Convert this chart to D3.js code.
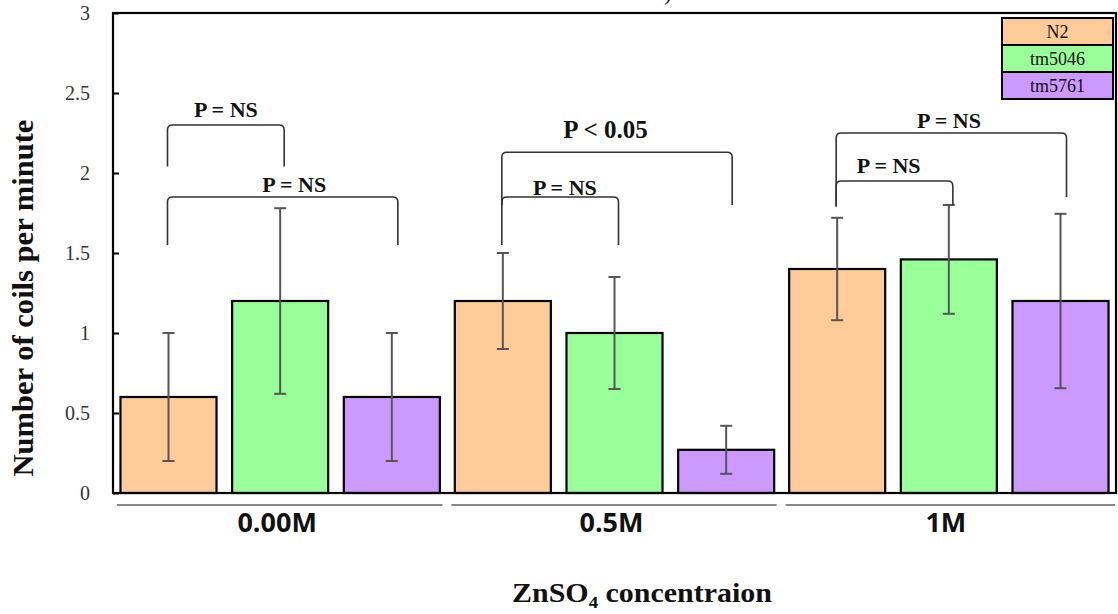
<!DOCTYPE html>
<html>
<head>
<meta charset="utf-8">
<script src="https://cdn.jsdelivr.net/npm/d3@7"></script>
<style>
  body { margin: 0; background: #fff; }
  svg { display: block; }
</style>
</head>
<body>
<div id="visualization"></div>
<script>
// data
var groups = ["0.00M", "0.5M", "1M"];
var series = ["N2", "tm5046", "tm5761"];
var n2Values = [0.6, 1.2, 1.4];
var n2Errors = [0.4, 0.3, 0.32];
var tm5046Values = [1.2, 1.0, 1.46];
var tm5046Errors = [0.58, 0.35, 0.34];
var tm5761Values = [0.6, 0.27, 1.2];
var tm5761Errors = [0.4, 0.15, 0.545];
var yTicks = [0, 0.5, 1, 1.5, 2, 2.5, 3];

// significance brackets: group, from/to series, heights in data units
var brackets = [
    {group: 0, from: 0, to: 1, top: 2.30, left: 2.04, right: 2.04, label: "P = NS", labelY: 2.35, at: 0.5},
    {group: 0, from: 0, to: 2, top: 1.85, left: 1.55, right: 1.55, label: "P = NS", labelY: 1.88, at: 0.55},
    {group: 1, from: 0, to: 2, top: 2.13, left: 1.80, right: 1.80, label: "P < 0.05", labelY: 2.22, at: 0.45, big: true},
    {group: 1, from: 0, to: 1, top: 1.85, left: 1.55, right: 1.55, label: "P = NS", labelY: 1.86, at: 0.54},
    {group: 2, from: 0, to: 2, top: 2.25, left: 1.79, right: 1.85, label: "P = NS", labelY: 2.28, at: 0.49},
    {group: 2, from: 0, to: 1, top: 1.95, left: 1.79, right: 1.80, label: "P = NS", labelY: 2.0, at: 0.45}
];

var colors = ["#ffcc99", "#99ff99", "#cc99ff"];
var serif = "'Liberation Serif', 'Times New Roman', serif";

var width = 1118, height = 614;
var plot = {left: 113, right: 1116, top: 13, bottom: 493};

var svg = d3.select("#visualization")
    .append("svg")
    .attr("width", width)
    .attr("height", height);

var values = [n2Values, tm5046Values, tm5761Values];
var errors = [n2Errors, tm5046Errors, tm5761Errors];

var rows = [];
groups.forEach(function (g, gi) {
    series.forEach(function (s, si) {
        rows.push({group: g, gi: gi, series: s, si: si, value: values[si][gi], err: errors[si][gi]});
    });
});

//Define scales
var x0 = d3.scaleBand().domain(groups).range([plot.left, plot.right]).padding(0);
var x1 = d3.scaleBand().domain(series).range([0, x0.bandwidth()])
    .paddingInner(0.14).paddingOuter(0.067);
var y = d3.scaleLinear().domain([0, 3]).range([plot.bottom, plot.top]);

function barCenter(gi, si) {
    return x0(groups[gi]) + x1(series[si]) + x1.bandwidth() / 2;
}

// stray fragment of the cropped title
svg.append("text")
    .attr("x", 664)
    .attr("y", 0)
    .attr("font-family", serif)
    .attr("font-size", 24)
    .attr("fill", "#222")
    .text(")");

// bars
svg.append("g")
    .attr("class", "bars")
    .selectAll("rect")
    .data(rows)
    .enter().append("rect")
    .attr("x", function (d) { return x0(d.group) + x1(d.series); })
    .attr("y", function (d) { return y(d.value); })
    .attr("width", x1.bandwidth())
    .attr("height", function (d) { return y(0) - y(d.value); })
    .attr("fill", function (d) { return colors[d.si]; })
    .attr("stroke", "#000")
    .attr("stroke-width", 2.2);

// error bars
var eb = svg.append("g")
    .attr("class", "errors")
    .attr("stroke", "#555")
    .attr("stroke-width", 2)
    .selectAll("g")
    .data(rows)
    .enter().append("g");

eb.append("line")
    .attr("x1", function (d) { return barCenter(d.gi, d.si); })
    .attr("x2", function (d) { return barCenter(d.gi, d.si); })
    .attr("y1", function (d) { return y(d.value - d.err); })
    .attr("y2", function (d) { return y(d.value + d.err); });

[-1, 1].forEach(function (sign) {
    eb.append("line")
        .attr("x1", function (d) { return barCenter(d.gi, d.si) - 6; })
        .attr("x2", function (d) { return barCenter(d.gi, d.si) + 6; })
        .attr("y1", function (d) { return y(d.value + sign * d.err); })
        .attr("y2", function (d) { return y(d.value + sign * d.err); });
});

// frame + y axis
svg.append("rect")
    .attr("x", plot.left)
    .attr("y", plot.top)
    .attr("width", plot.right - plot.left)
    .attr("height", plot.bottom - plot.top)
    .attr("fill", "none")
    .attr("stroke", "#000")
    .attr("stroke-width", 2.2);

var yAxis = svg.append("g")
    .attr("transform", "translate(" + plot.left + ",0)")
    .call(d3.axisLeft(y)
        .tickValues(yTicks)
        .tickSize(-6)
        .tickPadding(23)
        .tickFormat(function (d) { return String(d); }));
yAxis.select(".domain").remove();
yAxis.selectAll("line").attr("stroke", "#000").attr("stroke-width", 2);
yAxis.selectAll("text")
    .attr("font-family", serif)
    .attr("font-size", 20)
    .attr("fill", "#333");

// brackets (legs sit slightly right of the bar centres, as in the original)
var br = svg.append("g").attr("class", "brackets");
brackets.forEach(function (b) {
    var xl = barCenter(b.group, b.from) - 1, xr = barCenter(b.group, b.to) + 2 + 2 * b.to;
    var yt = y(b.top), r = 5;
    br.append("path")
        .attr("d", "M" + xl + "," + y(b.left) +
            "L" + xl + "," + (yt + r) +
            "Q" + xl + "," + yt + " " + (xl + r) + "," + yt +
            "L" + (xr - r) + "," + yt +
            "Q" + xr + "," + yt + " " + xr + "," + (yt + r) +
            "L" + xr + "," + y(b.right))
        .attr("fill", "none")
        .attr("stroke", "#333")
        .attr("stroke-width", 1.6);
    br.append("text")
        .attr("x", xl + (xr - xl) * b.at)
        .attr("y", y(b.labelY))
        .attr("text-anchor", "middle")
        .attr("font-family", serif)
        .attr("font-weight", "bold")
        .attr("font-size", b.big ? 25 : 22)
        .attr("fill", "#111")
        .text(b.label);
});

// legend
var legend = svg.append("g")
    .attr("class", "legend")
    .attr("transform", "translate(1002,18)");
var rowH = 27;
legend.selectAll("rect")
    .data(series)
    .enter().append("rect")
    .attr("x", 0)
    .attr("y", function (d, i) { return i * rowH; })
    .attr("width", 111)
    .attr("height", rowH)
    .attr("fill", function (d, i) { return colors[i]; })
    .attr("stroke", "#000")
    .attr("stroke-width", 2);
legend.selectAll("text")
    .data(series)
    .enter().append("text")
    .attr("x", 55.5)
    .attr("y", function (d, i) { return i * rowH + 20; })
    .attr("text-anchor", "middle")
    .attr("font-family", serif)
    .attr("font-size", 18)
    .attr("fill", "#111")
    .text(function (d) { return d; });

// category lines and labels under the axis
var cats = svg.append("g").attr("class", "cats");
cats.selectAll("line")
    .data(groups)
    .enter().append("line")
    .attr("x1", function (d) { return x0(d) + 4; })
    .attr("x2", function (d, i) { return x0(d) + x0.bandwidth() - (i === 2 ? 1 : 5); })
    .attr("y1", 505)
    .attr("y2", 505)
    .attr("stroke", "#888")
    .attr("stroke-width", 2);
cats.selectAll("text")
    .data(groups)
    .enter().append("text")
    .attr("x", function (d) { return x0(d) + x0.bandwidth() / 2 - 3; })
    .attr("y", 532)
    .attr("text-anchor", "middle")
    .attr("font-family", "'Open Sans', sans-serif")
    .attr("font-weight", "bold")
    .attr("font-size", 27)
    .attr("fill", "#111")
    .text(function (d) { return d; });

// fit a text element to a given width by stretching it
function stretchTo(sel, targetW, tx, ty, rotate) {
    var w = sel.node().getComputedTextLength();
    sel.attr("transform", "translate(" + tx + "," + ty + ")" +
        (rotate ? " rotate(-90)" : "") + " scale(" + (targetW / w) + ",1)");
}

// axis titles
var yTitle = svg.append("text")
    .attr("text-anchor", "middle")
    .attr("font-family", serif)
    .attr("font-weight", "bold")
    .attr("font-size", 30)
    .attr("fill", "#111")
    .text("Number of coils per minute");
stretchTo(yTitle, 357, 33, 298, true);

var xTitle = svg.append("text")
    .attr("text-anchor", "middle")
    .attr("font-family", serif)
    .attr("font-weight", "bold")
    .attr("font-size", 27)
    .attr("fill", "#111");
xTitle.append("tspan").text("ZnSO");
xTitle.append("tspan").attr("font-size", 17).attr("dy", 6).text("4");
xTitle.append("tspan").attr("dy", -6).text(" concentraion");
stretchTo(xTitle, 260, 642, 602, false);
</script>
</body>
</html>
